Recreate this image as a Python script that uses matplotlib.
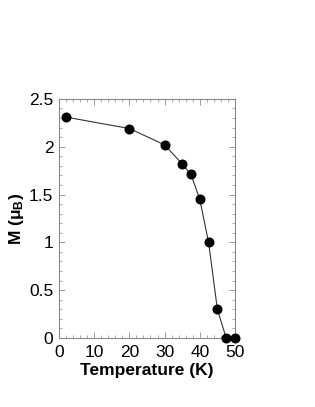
import matplotlib
matplotlib.use("Agg")
import matplotlib.pyplot as plt
from matplotlib.ticker import MultipleLocator

plt.rcParams['font.family'] = ['Liberation Sans', 'DejaVu Sans']
plt.rcParams['mathtext.fontset'] = 'custom'
plt.rcParams['mathtext.rm'] = 'Liberation Sans'
plt.rcParams['mathtext.bf'] = 'Liberation Sans:bold'

temperature = [2, 20, 30, 35, 37.5, 40, 42.5, 45, 47.5, 50]
magnetization = [2.31, 2.19, 2.02, 1.82, 1.71, 1.45, 1.0, 0.3, 0.0, 0.0]

fig = plt.figure(figsize=(3.15, 4.07), dpi=100)
ax = fig.add_axes([0.187, 0.1695, 0.559, 0.5875])
ax.plot(temperature, magnetization, '-', color='#333333', lw=0.8,
        marker='o', ms=6.2, mfc='black', mec='black', clip_on=False, zorder=3)
ax.set_xlim(0, 50)
ax.set_ylim(0, 2.5)
ax.xaxis.set_major_locator(MultipleLocator(10))
ax.xaxis.set_minor_locator(MultipleLocator(2))
ax.yaxis.set_major_locator(MultipleLocator(0.5))
ax.yaxis.set_minor_locator(MultipleLocator(0.1))
ax.tick_params(which='both', direction='in', top=True, right=True, color='#888888',
               labelsize=12.5)
ax.tick_params(axis='x', pad=5)
ax.tick_params(axis='y', pad=4)
ax.tick_params(which='major', length=4, width=0.6)
ax.tick_params(which='minor', length=2, width=0.5)
ax.set_yticks([0, 0.5, 1, 1.5, 2, 2.5])
ax.set_yticklabels(['0', '0.5', '1', '1.5', '2', '2.5'])
for s in ax.spines.values():
    s.set_color('#888888')
    s.set_linewidth(0.8)
ax.set_xlabel('Temperature (K)', fontsize=12.5, fontweight='bold', labelpad=2)
ax.set_ylabel(r'M ($\mathbf{\mu_B}$)', fontsize=12.5, fontweight='bold', labelpad=2)
fig.savefig('out.png', dpi=100)
